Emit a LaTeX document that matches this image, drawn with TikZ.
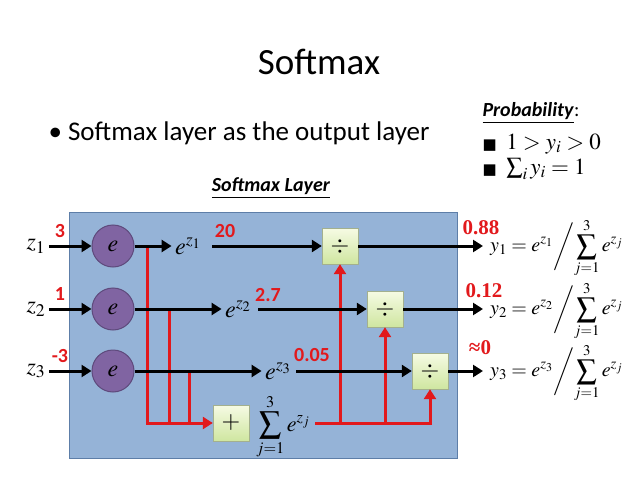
\documentclass[tikz,border=0pt]{standalone}
\usepackage{amsmath}
\usepackage{mathptmx}
\usepackage[no-math]{fontspec}
\setmainfont{Liberation Serif}
\setsansfont{Carlito}
\newfontfamily\symfont{DejaVu Sans}
\usetikzlibrary{arrows.meta, positioning, calc}

\definecolor{layerblue}{HTML}{95B3D7}
\definecolor{layeredge}{HTML}{5D7EA8}
\definecolor{expfill}{HTML}{8064A2}
\definecolor{expedge}{HTML}{5E4A7C}
\definecolor{optop}{HTML}{F6FBE4}
\definecolor{opbottom}{HTML}{CFE6A0}
\definecolor{opedge}{HTML}{A3B08E}
\definecolor{valred}{HTML}{E2191C}

\begin{document}
\begin{tikzpicture}[
  x=1pt, y=-1pt,
  every node/.style={font=\fontsize{24}{28}\selectfont},
  layer/.style={draw=layeredge, fill=layerblue, line width=1pt, minimum width=388pt, minimum height=246pt},
  expnode/.style={circle, draw=expedge, fill=expfill, line width=1pt, minimum size=42pt, inner sep=0pt},
  opbox/.style={draw=opedge, top color=optop, bottom color=opbottom, minimum size=36pt, inner sep=0pt},
  arrow/.style={-{Triangle[length=10pt, width=12pt]}, line width=3pt},
  redline/.style={draw=valred, line width=3pt},
  redarrow/.style={arrow, draw=valred},
  val/.style={text=valred, font=\sffamily\bfseries\fontsize{20}{22}\selectfont},
  outval/.style={text=valred, font=\bfseries\fontsize{21}{23}\selectfont},
  formula/.style={anchor=west, inner sep=1pt, font=\fontsize{20}{24}\selectfont}
]
\useasboundingbox (0,0) rectangle (638,479);

% heading
\node (title) at (319,62) {\sffamily\fontsize{37}{40}\selectfont Softmax};
\node[anchor=west] (bullet) at (45,133) {\sffamily\fontsize{27}{30}\selectfont \textbullet\ Softmax layer as the output layer};
\node[anchor=west] (prob) at (479,113) {\sffamily\fontsize{20}{22}\selectfont\underline{\textbf{\textit{Probability}}}:};
\node[anchor=west] (prob1) at (479,144) {\fontsize{23}{25}\selectfont{\symfont\fontsize{15}{18}\selectfont ■}\, $1 > y_i > 0$};
\node[anchor=west] (prob2) at (479,169) {\fontsize{23}{25}\selectfont{\symfont\fontsize{15}{18}\selectfont ■}\, $\sum_i y_i = 1$};
\node (layername) at (271,188) {\sffamily\fontsize{20}{22}\selectfont\underline{\textbf{\textit{Softmax Layer}}}};

% the layer
\node[layer] (layer) at (263,335) {};

% inputs and exponentials
\node (z1) at (36,246) {$z_1$};
\node (z2) at (36,309) {$z_2$};
\node (z3) at (36,371) {$z_3$};
\node[expnode] (e1) at (113,246) {$e$};
\node[expnode] (e2) at (113,309) {$e$};
\node[expnode] (e3) at (113,371) {$e$};
\node (ez1) at (188,246) {$e^{z_1}$};
\node (ez2) at (238,309) {$e^{z_2}$};
\node (ez3) at (278,371) {$e^{z_3}$};

% operations
\node[opbox] (div1) at (340,246) {$\div$};
\node[opbox] (div2) at (385,309) {$\div$};
\node[opbox] (div3) at (430,371) {$\div$};
\node[opbox] (plus) at (231,423) {$+$};
\node[formula, font=\fontsize{22}{26}\selectfont] (sum) at (255,427) {$\displaystyle\sum_{j=1}^{3} e^{z_j}$};

% outputs
\node[formula] (y1) at (489,248) {$\displaystyle y_1 = e^{z_1}\bigg/\!\sum_{j=1}^{3} e^{z_j}$};
\node[formula] (y2) at (489,311) {$\displaystyle y_2 = e^{z_2}\bigg/\!\sum_{j=1}^{3} e^{z_j}$};
\node[formula] (y3) at (489,373) {$\displaystyle y_3 = e^{z_3}\bigg/\!\sum_{j=1}^{3} e^{z_j}$};

% values
\node[val] (v1) at (60,231) {3};
\node[val] (v2) at (60,294) {1};
\node[val] (v3) at (60,356) {-3};
\node[val] (vez1) at (225,231) {20};
\node[val] (vez2) at (268,295) {2.7};
\node[val] (vez3) at (312,355) {0.05};
\node[outval] (vy1) at (481,228) {0.88};
\node[outval] (vy2) at (484,291) {0.12};
\node[outval] (vy3) at (480,348) {≈0};

% taps for the sum
\coordinate (t1) at (147,246);
\coordinate (t2) at (169,309);
\coordinate (t3) at (189,371);

% red paths
\draw[redarrow] (t1) |- (plus);
\draw[redline] (t2) -- (t2 |- plus);
\draw[redline] (t3) -- (t3 |- plus);
\draw[redarrow] ([xshift=4pt]sum.east |- plus) -| (div3);
\draw[redarrow] (div1 |- plus) -- (div1);
\draw[redarrow] (div2 |- plus) -- (div2);

% black paths
\draw[arrow] (z1) -- (e1);
\draw[arrow] (z2) -- (e2);
\draw[arrow] (z3) -- (e3);
\draw[arrow] (e1) -- (ez1);
\draw[arrow] (e2) -- (ez2);
\draw[arrow] (e3) -- (ez3);
\draw[arrow] ([xshift=8pt]ez1.east) -- (div1);
\draw[arrow] ([xshift=4pt]ez2.east) -- (div2);
\draw[arrow] ([xshift=2pt]ez3.east) -- (div3);
\draw[arrow] (div1) -- ([xshift=-6pt]div1 -| y1.west);
\draw[arrow] (div2) -- ([xshift=-6pt]div2 -| y2.west);
\draw[arrow] (div3) -- ([xshift=-6pt]div3 -| y3.west);
\end{tikzpicture}
\end{document}
